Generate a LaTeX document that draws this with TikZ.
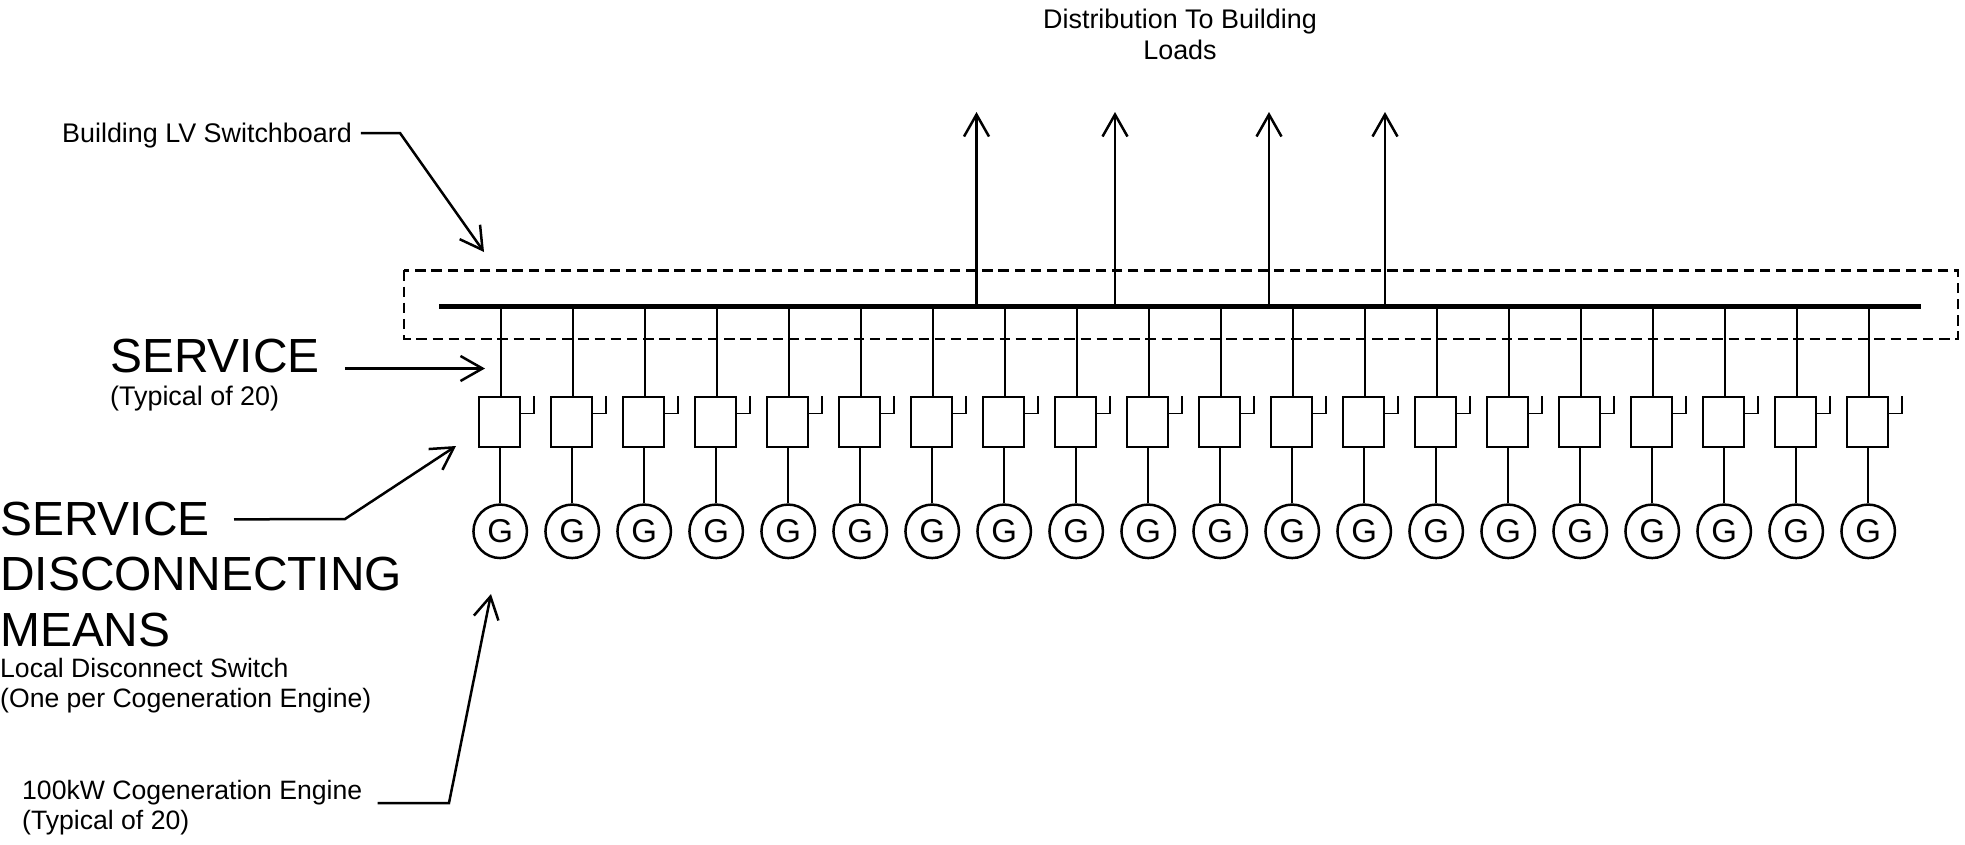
\documentclass[tikz,border=0pt]{standalone}
\usepackage{fontspec}
\setmainfont{Liberation Sans}
\usetikzlibrary{arrows.meta,positioning}

\newcommand{\smalltxt}{\fontsize{26.9pt}{31pt}\selectfont}
\newcommand{\notetxt}{\fontsize{26.6pt}{30.5pt}\selectfont}
\newcommand{\bigtxt}{\fontsize{47.9pt}{55.5pt}\selectfont}

\begin{document}
\begin{tikzpicture}[
    x=1pt, y=-1pt,
    wire/.style={line width=2.5pt},
    busbar/.style={line width=5.3pt},
    arrow/.style={-{Straight Barb[length=22pt,width=25pt]}, line width=2.5pt},
    disc/.style={rectangle, draw, line width=1.8pt, minimum width=40.6pt, minimum height=50pt, inner sep=0pt},
    gen/.style={circle, draw, line width=2.5pt, minimum size=53.5pt, inner sep=0pt, font=\fontsize{33pt}{33pt}\selectfont},
    lbl/.style={inner sep=0pt, anchor=base west, align=left, font=\smalltxt},
    biglbl/.style={inner sep=0pt, anchor=base west, align=left, font=\bigtxt}
]
    \useasboundingbox (0,0) rectangle (1965,844);

    % LV switchboard
    \draw[line width=2.5pt, dash pattern=on 10.5pt off 5.7pt] (404,270.3) rectangle (1958,339);
    \coordinate (busl) at (439,306.3);
    \coordinate (busr) at (1921,306.3);

    % Engines and their disconnects
    \foreach \i in {1,...,20} {
        \pgfmathsetmacro{\xg}{500.2+72*(\i-1)}
        \node[disc] (disc\i) at (\xg-0.8,422.3) {};
        \node[gen] (gen\i) at (\xg,531.3) {G};
        \coordinate (tap\i) at (\xg+0.7,397.3);
        \draw[wire] (tap\i |- busl) -- (tap\i);
        \draw[wire] (gen\i) -- (gen\i |- disc\i.south);
        \draw[line width=1.8pt] ([yshift=-17pt]disc\i.north east) -- ++(13.5,0) -- ++(0,-17);
    }
    \draw[busbar] (busl) -- (busr);

    % Loads
    \foreach \x/\n in {976.5/a,1115/b,1269/c,1385/d} {
        \coordinate (load\n) at (\x,112);
        \draw[arrow] (load\n |- busl) -- (load\n);
    }
    \node[inner sep=0pt, align=center, anchor=north, font=\smalltxt] (dist) at (1180,9) {Distribution To Building\\Loads};

    % Labels
    \node[lbl] (swlbl) at (62,142.5) {Building LV Switchboard};
    \node[biglbl] (svc) at (110,372) {SERVICE};
    \node[lbl] (svcnote) at (110,405) {(Typical of 20)};
    \node[biglbl] (sdm) at (0,646) {SERVICE\\DISCONNECTING\\MEANS};
    \node[lbl, font=\notetxt] (sdmnote) at (0,707.5) {Local Disconnect Switch\\(One per Cogeneration Engine)};
    \node[lbl, font=\notetxt] (englbl) at (22,829.5) {100kW Cogeneration Engine\\(Typical of 20)};

    % Leaders
    \coordinate (swtip) at (484,252);
    \coordinate (svctip) at (485,368.5);
    \coordinate (sdmtip) at (456,446);
    \coordinate (engtip) at (491,594);
    \draw[arrow] ([xshift=9pt,yshift=9.5pt]swlbl.base east) -- (400,133) -- (swtip);
    \draw[arrow] ([xshift=25pt,yshift=3.5pt]svc.base east) -- (svctip);
    \draw[arrow] ([xshift=234pt,yshift=-18pt]sdm.north west) -- (345,519) -- (sdmtip);
    \draw[arrow] ([xshift=15pt,yshift=-23.5pt]englbl.north east) -- (449,803) -- (engtip);
\end{tikzpicture}
\end{document}
